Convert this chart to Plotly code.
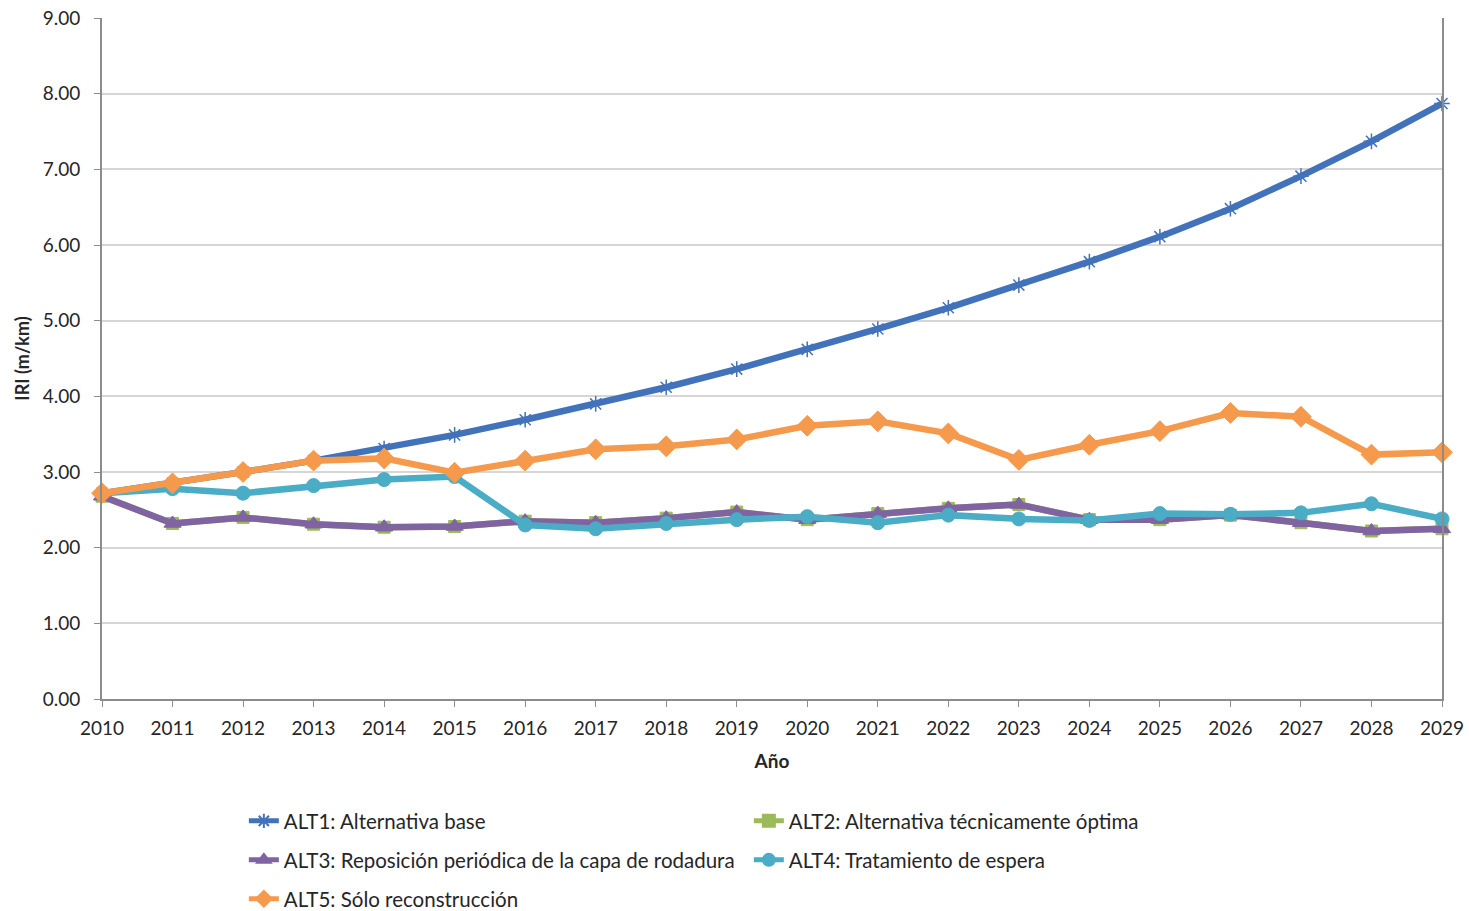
import plotly.graph_objects as go

# Years of the analysis period
years = list(range(2010, 2030))

# IRI (m/km) per alternative
alt1 = [2.72, 2.85, 3.00, 3.15, 3.31, 3.49, 3.69, 3.90, 4.12, 4.36,
        4.62, 4.89, 5.17, 5.47, 5.78, 6.11, 6.48, 6.91, 7.37, 7.87]
alt2 = [2.68, 2.32, 2.40, 2.31, 2.27, 2.28, 2.35, 2.33, 2.39, 2.47,
        2.37, 2.45, 2.52, 2.57, 2.37, 2.37, 2.43, 2.33, 2.22, 2.25]
alt3 = [2.68, 2.32, 2.40, 2.31, 2.27, 2.28, 2.35, 2.33, 2.39, 2.47,
        2.37, 2.45, 2.52, 2.57, 2.37, 2.37, 2.43, 2.33, 2.22, 2.25]
alt4 = [2.72, 2.78, 2.72, 2.82, 2.90, 2.94, 2.30, 2.25, 2.32, 2.37,
        2.41, 2.33, 2.43, 2.38, 2.36, 2.45, 2.44, 2.46, 2.58, 2.38]
alt5 = [2.72, 2.85, 3.00, 3.15, 3.18, 2.99, 3.15, 3.30, 3.34, 3.43,
        3.61, 3.67, 3.51, 3.16, 3.36, 3.54, 3.78, 3.73, 3.23, 3.26]

names = [
    "ALT1: Alternativa base",
    "ALT2: Alternativa técnicamente óptima",
    "ALT3: Reposición periódica de la capa de rodadura",
    "ALT4: Tratamiento de espera",
    "ALT5: Sólo reconstrucción",
]
series = [alt1, alt2, alt3, alt4, alt5]
colors = ["#4272BA", "#9BBB59", "#8064A2", "#4BACC6", "#F59A4C"]
symbols = ["asterisk-open", "square", "triangle-up", "circle", "diamond"]
msizes = [13, 12, 15, 14, 16]
# legend rows: two entries per row
legend_ids = ["legend", "legend", "legend2", "legend2", "legend3"]

fig = go.Figure()
for name, vals, col, sym, ms, lg in zip(names, series, colors, symbols, msizes, legend_ids):
    marker = dict(symbol=sym, size=ms, color=col)
    if sym == "asterisk-open":
        marker["line"] = dict(color="#9DB7E0", width=1.5)
    else:
        marker["line"] = dict(color=col, width=1)
    fig.add_trace(go.Scatter(
        x=years, y=vals, name=name, mode="lines+markers",
        line=dict(color=col, width=6.5),
        marker=marker, cliponaxis=False, legend=lg,
    ))

font_family = "Lato, 'Open Sans', sans-serif"
text_col = "#262626"
axis_col = "#8C8C8C"


def legend_row(y):
    return dict(
        orientation="h", xref="container", yref="container",
        x=0.166, xanchor="left", y=y, yanchor="middle",
        entrywidth=460, entrywidthmode="pixels",
        font=dict(family=font_family, size=20.5, color=text_col),
        itemsizing="constant", bgcolor="rgba(0,0,0,0)",
    )


fig.update_layout(
    width=1469, height=911,
    margin=dict(l=102, r=27, t=18, b=212),
    paper_bgcolor="white", plot_bgcolor="white",
    font=dict(family=font_family, size=19, color=text_col),
    showlegend=True,
    legend=legend_row(1 - 821 / 911),
    legend2=legend_row(1 - 860 / 911),
    legend3=legend_row(1 - 899 / 911),
    xaxis=dict(
        range=[2010, 2029], tickmode="linear", tick0=2010, dtick=1,
        automargin=False,
        showgrid=False, showline=True, linecolor=axis_col, linewidth=2,
        ticks="outside", ticklen=6, tickcolor=axis_col, ticklabelstandoff=5,
        tickfont=dict(size=19, color=text_col),
        title=dict(text="<b>Año</b>", font=dict(size=19, color=text_col), standoff=17),
        zeroline=False,
    ),
    yaxis=dict(
        range=[0, 9], tickmode="linear", tick0=0, dtick=1, tickformat=".2f",
        automargin=False,
        showgrid=True, gridcolor="#D6D6D6", gridwidth=1.5,
        showline=True, linecolor=axis_col, linewidth=2, mirror=True,
        ticks="outside", ticklen=6, tickcolor=axis_col, ticklabelstandoff=10,
        tickfont=dict(size=19, color=text_col),
        title=dict(text="<b>IRI (m/km)</b>", font=dict(size=18, color=text_col), standoff=8),
        zeroline=False,
    ),
)

fig.write_html("out.html")
